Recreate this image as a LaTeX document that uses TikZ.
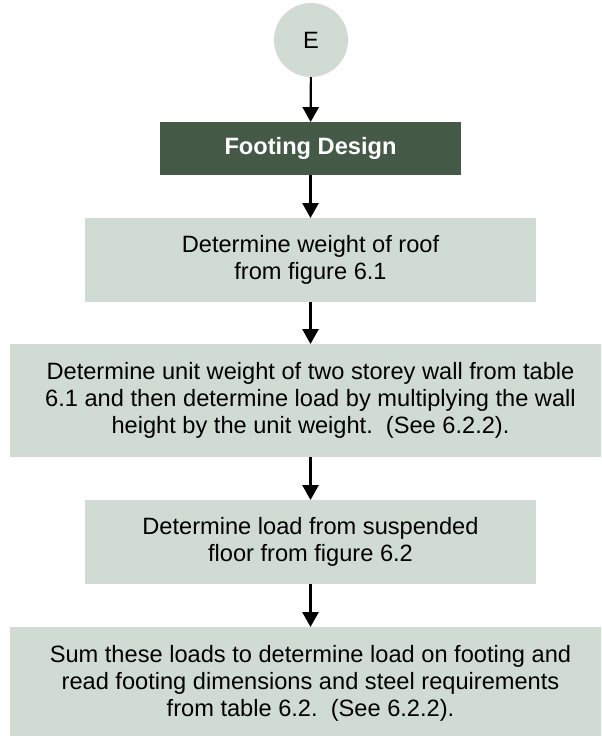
\documentclass[tikz,border=0pt]{standalone}
\usepackage{fontspec}
\setmainfont{Liberation Sans}
\usetikzlibrary{arrows.meta,positioning}
\definecolor{sage}{HTML}{D0DCD3}
\definecolor{pine}{HTML}{445A47}
\tikzset{
  blk/.style={rectangle,fill=sage,inner sep=0pt,outer sep=0pt,align=center,
    font=\fontsize{16.8pt}{19.4pt}\selectfont},
  hdrblk/.style={blk,fill=pine,text=white,font=\fontsize{16.8pt}{19.4pt}\selectfont\bfseries},
  conn/.style={circle,fill=sage,inner sep=0pt,outer sep=0pt,minimum size=1.85cm,
    font=\fontsize{16.8pt}{19.4pt}\selectfont},
  arr/.style={-{Triangle[width=0.4cm,length=0.37cm]},line width=1.5pt,black}
}

\begin{document}
\begin{tikzpicture}[x=0.025cm,y=-0.025cm]
  \clip (0,0) rectangle (601,736);

  % Off-page connector
  \node[conn] (E) at (311,40) {E};

  % Title bar
  \node[hdrblk, minimum width=7.525cm, minimum height=1.325cm] (foot) at (310.5,148.5) {Footing Design};

  % Steps
  \node[blk, minimum width=11.275cm, minimum height=2.1cm] (roof) at (310.5,260)
    {Determine weight of roof\\ from figure 6.1};
  \node[blk, minimum width=15.025cm, minimum height=2.825cm] (wall) at (310.5,400.5)
    {Determine unit weight of two storey wall from table\\
     6.1 and then determine load by multiplying the wall\\
     height by the unit weight.\ \ (See 6.2.2).};
  \node[blk, minimum width=11.275cm, minimum height=2.1cm] (floor) at (310.5,542)
    {Determine load from suspended\\ floor from figure 6.2};
  \node[blk, minimum width=15.025cm, minimum height=2.825cm] (sum) at (310.5,683.5)
    {Sum these loads to determine load on footing and\\
     read footing dimensions and steel requirements\\
     from table 6.2.\ \ (See 6.2.2).};

  % Flow
  \draw[arr] (E) -- (foot);
  \draw[arr] (foot) -- (roof);
  \draw[arr] (roof) -- (wall);
  \draw[arr] (wall) -- (floor);
  \draw[arr] (floor) -- (sum);
\end{tikzpicture}
\end{document}
